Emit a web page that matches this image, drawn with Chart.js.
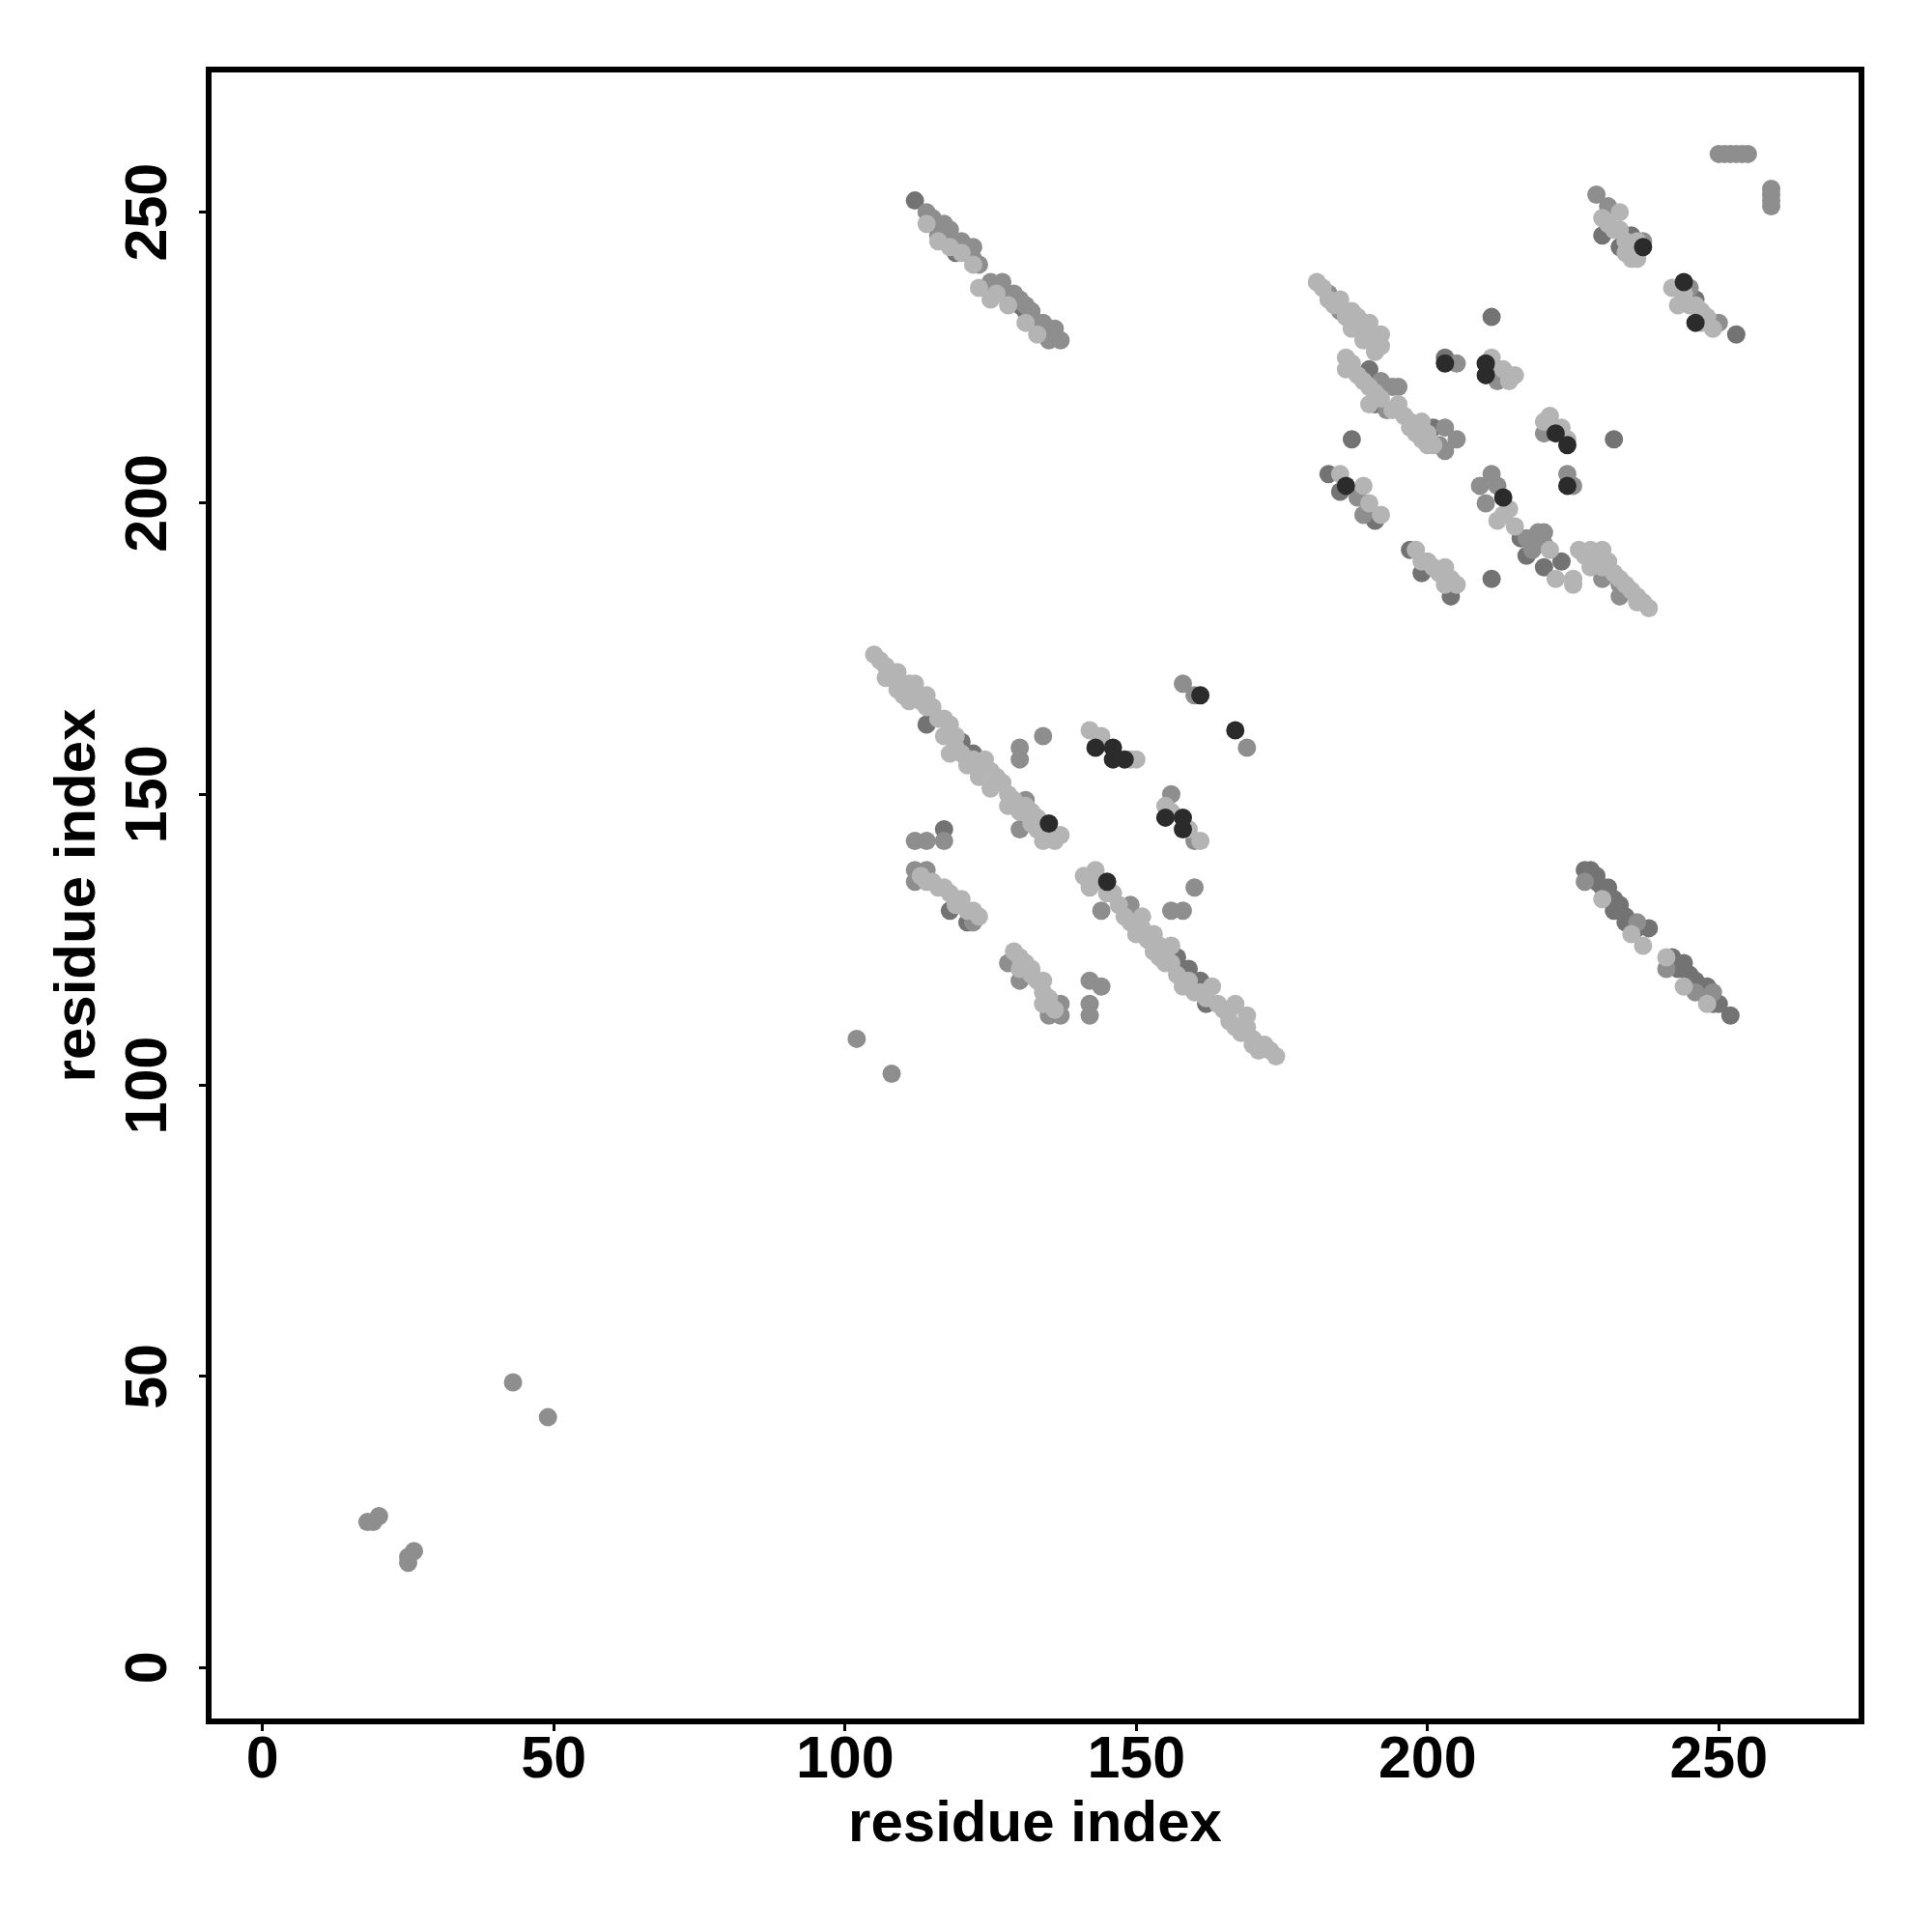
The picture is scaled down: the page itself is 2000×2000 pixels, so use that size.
<!DOCTYPE html>
<html>
<head>
<meta charset="utf-8">
<script src="https://cdn.jsdelivr.net/npm/chart.js@4"></script>
<style>
  html, body { margin: 0; padding: 0; background: #fff; }
  #chart { display: block; }
</style>
</head>
<body>
<canvas id="chart" width="2000" height="2000"></canvas>
<script>
// contact map: residue index vs residue index, grouped by grey shade
const tickValues = [0, 50, 100, 150, 200, 250];
const axisMin = -9.25;
const axisMax = 274.5;

const lightPts = [
  [114,248],[116,245],[118,244],[120,243],[122,241],
  [123,237],[126,236],[125,235],[128,234],[131,231],[133,229],
  [105,174],[106,173],[107,172],[108,171],[109,171],[107,170],[110,169],[109,168],[111,169],[112,169],
  [110,167],[112,167],[113,166],[111,166],[114,167],[114,165],[115,165],[116,163],[117,163],[118,162],
  [117,160],[119,160],[119,158],[118,157],[120,157],[122,156],[121,155],[124,156],[123,155],[123,153],
  [125,154],[126,153],[127,152],[125,151],[128,150],[129,149],[128,148],[131,148],[130,147],[132,147],
  [133,146],[134,145],[132,145],[133,144],[135,143],[134,142],[137,143],[136,142],
  [113,136],[114,135],[115,135],[116,134],[117,134],[118,133],[119,132],[120,132],[119,131],[121,130],
  [122,130],[123,129],
  [129,123],[130,122],[131,121],[130,120],[132,120],[132,119],[133,118],[134,118],[134,116],[135,115],
  [134,114],[136,113],
  [143,137],[141,136],[144,135],[142,134],[146,133],[145,133],[147,131],[148,129],[149,128],[151,129],
  [151,127],[150,126],[153,126],[152,125],[154,124],[153,123],[156,124],[154,122],[155,121],[156,121],
  [157,119],[159,118],[158,117],[160,116],[161,116],[163,117],[162,115],[164,114],[165,113],[166,113],
  [167,114],[166,111],[169,112],[169,110],[167,110],[168,109],[170,108],[172,107],[170,107],[171,106],
  [173,106],[174,105],
  [142,161],[144,160],[149,156],[150,156],
  [155,148],[156,147],[159,144],[161,142],
  [181,238],[182,237],[183,235],[185,235],[184,234],[187,233],[186,232],[188,232],[187,230],[188,230],
  [189,231],[190,231],[189,228],[190,228],[192,229],[191,229],[192,227],[191,226],
  [211,225],[213,223],[215,222],[214,221],
  [186,225],[187,224],[186,223],[188,222],[189,221],[190,220],[191,219],[192,218],[190,217],[194,216],
  [195,217],[196,215],[197,214],[199,214],[197,213],[198,212],[200,212],[199,211],[200,210],[201,210],
  [185,205],[189,203],[190,200],[192,198],
  [198,192],[199,190],[200,190],[201,189],[203,189],[202,188],[204,187],[203,186],[205,186],
  [212,197],[213,198],[214,199],[215,196],
  [220,214],[221,215],[223,213],[224,211],[221,192],[222,187],[225,187],[225,186],
  [226,192],[227,191],[228,192],[230,192],[229,190],[228,189],[231,190],[230,189],[232,188],[233,187],
  [234,186],[235,185],[236,184],[236,183],[237,183],[238,182],
  [230,249],[233,250],[231,248],[232,247],[233,247],[234,245],[236,245],[234,243],[235,242],[236,242],
  [242,237],[244,236],[243,234],[245,234],[246,234],[247,233],[248,232],[247,231],[249,230],
  [230,132],[235,126],[237,124],
  [241,122],[244,117],[248,114]
];

const midPts = [
  [114,250],[115,249],[117,248],[116,247],[118,247],[116,246],[120,245],[119,245],[121,244],[122,244],
  [121,243],[122,242],[123,241],
  [125,238],[127,238],[124,237],[126,237],[128,236],[129,236],[130,235],[129,235],[131,234],[132,233],
  [133,231],[134,231],[135,230],[136,230],[136,229],[135,228],[137,228],
  [131,149],[130,144],[134,160],[130,158],[130,156],[112,142],[114,142],[117,142],
  [112,137],[114,137],[112,135],[122,128],
  [128,121],[130,118],[137,114],[135,112],[137,112],
  [144,130],[149,131],[156,130],[158,130],[160,134],[142,118],[144,117],[142,114],[142,112],
  [158,169],[160,167],[169,158],[156,150],[160,142],
  [183,236],[185,233],
  [205,224],[212,221],
  [192,221],[194,220],[195,220],[193,216],[203,213],[205,211],[202,210],[203,209],
  [188,201],[189,198],
  [211,205],[209,203],[212,203],[210,200],[217,194],[218,192],[220,195],
  [220,212],[224,205],[225,203],[219,195],[220,193],[230,187],[233,186],[233,184],
  [229,253],[231,251],[237,245],
  [245,237],[250,231],
  [250,260],[251,260],[252,260],[253,260],[254,260],[255,260],[259,254],[259,253],[259,252],[259,251],
  [227,135],[236,128],
  [241,120],[246,116],[249,116],
  [43,49],[49,43],[18,25],[19,25],[20,26],[25,18],[25,19],[26,20],
  [102,108],[108,102]
];

const darkPts = [
  [112,252],[119,244],[119,243],
  [130,234],[131,233],[132,232],[134,230],
  [114,162],[118,161],[120,159],[122,157],[117,144],
  [118,130],[121,128],
  [157,122],[159,120],[161,118],[162,114],
  [190,223],[191,217],[201,213],
  [187,211],[211,232],[211,187],[232,211],[203,225],[212,223],
  [183,205],[185,202],[191,197],
  [197,192],[199,188],[204,184],
  [216,194],[217,191],[220,189],[223,190],
  [230,246],[233,244],[235,246],
  [246,235],[253,229],
  [227,137],[228,137],[229,136],[229,135],[230,134],[231,134],[233,131],[232,132],[232,130],[234,129],
  [234,128],[235,128],[236,127],[238,127],
  [242,122],[244,121],[243,120],[245,119],[246,118],[248,117],[247,116],[249,114],[250,114],[252,112]
];

const blackPts = [
  [135,145],[145,135],[161,167],[167,161],
  [143,158],[146,158],[146,156],[148,156],
  [155,146],[158,146],[158,144],
  [203,224],[210,224],[210,222],
  [186,203],[213,201],
  [222,212],[224,210],[224,203],
  [237,244],[244,238],[246,231]
];

const FONT = '"Liberation Sans", Arial, Helvetica, sans-serif';
const toXY = (pts) => pts.map(([x, y]) => ({ x, y }));

// black frame round the plot region
const boxPlugin = {
  id: 'box',
  afterDraw(chart) {
    const { ctx, chartArea: a } = chart;
    ctx.save();
    ctx.strokeStyle = '#000';
    ctx.lineWidth = 6;
    ctx.strokeRect(a.left, a.top, a.right - a.left, a.bottom - a.top);
    ctx.restore();
  }
};

// y tick labels are rotated like in R
const yLabels = {
  id: 'yLabels',
  afterDraw(chart) {
    const { ctx } = chart;
    const ys = chart.scales.y;
    ctx.save();
    ctx.fillStyle = '#000';
    ctx.font = 'bold 61px ' + FONT;
    ctx.textAlign = 'center';
    ctx.textBaseline = 'alphabetic';
    tickValues.forEach((v) => {
      ctx.save();
      ctx.translate(172, ys.getPixelForValue(v));
      ctx.rotate(-Math.PI / 2);
      ctx.fillText(String(v), 0, 0);
      ctx.restore();
    });
    ctx.restore();
  }
};

const axisTicks = (s) => { s.ticks = tickValues.map((v) => ({ value: v })); };
const gridOpts = {
  drawOnChartArea: false,
  drawTicks: true,
  tickLength: 10,
  tickWidth: 3,
  tickColor: '#000',
  color: '#000'
};

const ctx = document.getElementById('chart').getContext('2d');
new Chart(ctx, {
  type: 'scatter',
  data: {
    // first dataset is drawn on top
    datasets: [
      { data: toXY(blackPts), backgroundColor: '#2b2b2b' },
      { data: toXY(lightPts), backgroundColor: '#b4b4b4' },
      { data: toXY(midPts), backgroundColor: '#8e8e8e' },
      { data: toXY(darkPts), backgroundColor: '#737373' }
    ]
  },
  options: {
    responsive: false,
    animation: false,
    devicePixelRatio: 1,
    layout: { padding: { top: 72, right: 73, left: 0, bottom: 0 } },
    plugins: { legend: { display: false }, tooltip: { enabled: false } },
    elements: { point: { radius: 9.5, hoverRadius: 9.5, borderWidth: 0 } },
    scales: {
      x: {
        type: 'linear',
        position: 'bottom',
        min: axisMin,
        max: axisMax,
        afterBuildTicks: axisTicks,
        afterFit: (s) => { s.height = 218; },
        grid: gridOpts,
        border: { display: false },
        ticks: {
          color: '#000',
          font: { family: FONT, size: 61, weight: 'bold', lineHeight: 1 },
          padding: 1,
          maxRotation: 0,
          autoSkip: false
        },
        title: {
          display: true,
          text: 'residue index',
          color: '#000',
          font: { family: FONT, size: 60, weight: 'bold', lineHeight: 1.2 },
          padding: { top: 0, bottom: 75 }
        }
      },
      y: {
        type: 'linear',
        position: 'left',
        min: axisMin,
        max: axisMax,
        afterBuildTicks: axisTicks,
        afterFit: (s) => { s.width = 216; },
        grid: gridOpts,
        border: { display: false },
        ticks: { display: false },
        title: {
          display: true,
          text: 'residue index',
          color: '#000',
          font: { family: FONT, size: 60, weight: 'bold', lineHeight: 1.2 },
          padding: { top: 45, bottom: 0 }
        }
      }
    }
  },
  plugins: [boxPlugin, yLabels]
});
</script>
</body>
</html>
